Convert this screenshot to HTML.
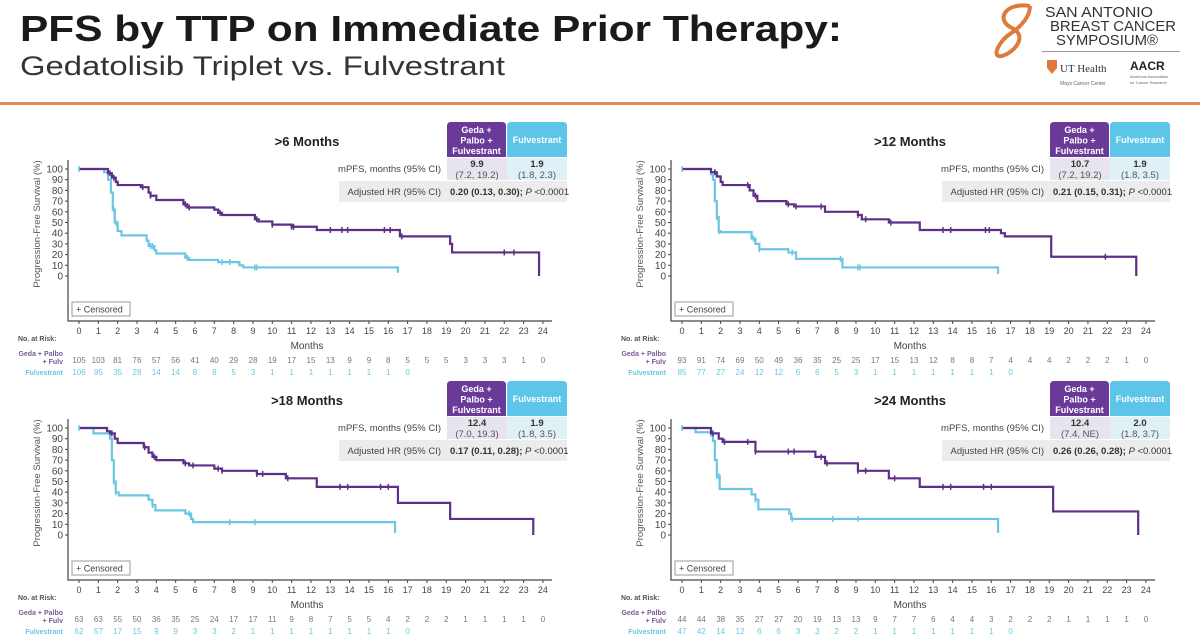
<!DOCTYPE html>
<html><head><meta charset="utf-8"><style>
body{margin:0;background:#fff;}
svg{display:block;font-family:"Liberation Sans",sans-serif;}
</style></head><body>
<svg id="s" width="1200" height="641" viewBox="0 0 1200 641" xmlns="http://www.w3.org/2000/svg">
<text x="20" y="41" font-size="36" font-weight="bold" fill="#1a1a1a" textLength="822" lengthAdjust="spacingAndGlyphs">PFS by TTP on Immediate Prior Therapy:</text>
<text x="20" y="75" font-size="27" fill="#333" textLength="485" lengthAdjust="spacingAndGlyphs">Gedatolisib Triplet vs. Fulvestrant</text>
<rect x="0" y="102" width="1200" height="3" fill="#e8865e"/>
<g>
<path d="M1030 6 C1005 2 995 20 1012 28 C1028 36 1015 52 1002 56 C990 58 1000 40 1010 34 C1022 26 1030 16 1030 6" fill="none" stroke="#e07a3a" stroke-width="4"/>
<text x="1045" y="17" font-size="15" fill="#333" textLength="108" lengthAdjust="spacingAndGlyphs">SAN ANTONIO</text>
<text x="1050" y="31" font-size="15" fill="#333" textLength="126" lengthAdjust="spacingAndGlyphs">BREAST CANCER</text>
<text x="1056" y="45" font-size="15" fill="#333" textLength="102" lengthAdjust="spacingAndGlyphs">SYMPOSIUM®</text>
<rect x="1042" y="51" width="138" height="1" fill="#999"/>
<path d="M1047 60 h10 v8 l-5 6 l-5 -6z" fill="#e07a3a"/>
<text x="1060" y="72" font-size="11" fill="#333" font-family="Liberation Serif, serif">UT Health</text>
<text x="1060" y="85" font-size="5" fill="#666">Mays Cancer Center</text>
<text x="1130" y="70" font-size="12" font-weight="bold" fill="#222">AACR</text>
<text x="1130" y="78" font-size="4" fill="#666">American Association</text>
<text x="1130" y="84" font-size="4" fill="#666">for Cancer Research</text>
</g>
<g id="panels"></g>
</svg>
<script>
const months = [0,1,2,3,4,5,6,7,8,9,10,11,12,13,14,15,16,17,18,19,20,21,22,23,24];
const yTicks = [100,90,80,70,60,50,40,30,20,10,0];
const titles = [">6 Months", ">12 Months", ">18 Months", ">24 Months"];
const mpfsGeda = ["9.9","10.7","12.4","12.4"];
const ciGeda = ["(7.2, 19.2)","(7.2, 19.2)","(7.0, 19.3)","(7.4, NE)"];
const mpfsFulv = ["1.9","1.9","1.9","2.0"];
const ciFulv = ["(1.8, 2.3)","(1.8, 3.5)","(1.8, 3.5)","(1.8, 3.7)"];
const hrText = ["0.20 (0.13, 0.30)","0.21 (0.15, 0.31)","0.17 (0.11, 0.28)","0.26 (0.26, 0.28)"];
const pText = ["P <0.0001","P <0.0001","P <0.0001","P <0.0001"];
const gedaT = [
 [0,1.5,1.7,1.9,2.0,3.2,3.6,3.7,4.0,5.4,5.6,7.0,7.2,7.4,9.1,9.3,10.0,11.0,12.3,16.6,19.2,19.3,23.8],
 [0,1.5,1.8,2.0,2.1,3.5,3.7,3.9,5.4,5.8,7.4,9.1,9.3,10.7,12.3,16.5,16.7,19.1,23.5],
 [0,1.45,1.6,1.85,2.0,3.35,3.6,3.8,4.0,5.4,5.7,7.0,7.4,9.2,10.7,12.3,16.5,19.2,23.5],
 [0,1.5,1.9,2.1,3.8,6.9,7.4,9.1,10.7,12.3,19.2,23.6]];
const gedaS = [
 [100,96,92,88,85,83,78,75,71,67,64,62,59,57,53,51,48,46,43,37,30,22,0],
 [100,97,93,88,85,80,75,70,67,65,60,57,53,50,43,40,37,18,0],
 [100,97,95,90,86,82,77,73,70,67,65,62,60,57,53,45,30,15,0],
 [100,95,90,87,78,73,67,60,53,45,22,0]];
const gedaEnd = [23.8,23.5,23.5,23.6];
const fulvT = [
 [0,1.3,1.5,1.65,1.75,1.85,2.0,2.2,3.5,3.6,3.9,4.0,5.5,5.7,7.2,8.3,8.5,16.5],
 [0,1.5,1.6,1.7,1.8,1.9,2.0,3.6,3.8,4.0,5.5,5.9,8.3,16.35],
 [0,0.75,1.6,1.7,1.8,1.9,2.05,3.6,3.8,3.95,5.5,5.8,5.9,16.35],
 [0,0.7,1.5,1.6,1.7,1.8,1.95,3.6,3.8,3.95,5.55,5.65,16.35]];
const fulvS = [
 [100,97,90,78,62,50,42,38,33,28,24,21,17,15,13,10,8,3],
 [100,95,90,70,55,42,41,35,30,25,22,16,8,2],
 [100,95,90,70,50,40,37,33,28,23,20,15,12,2],
 [100,96,93,88,70,55,43,38,33,24,20,15,2]];
const gedaCens = [[1.6,1.8,3.3,3.7,5.5,5.7,7.3,9.2,10.0,11.0,11.1,13.0,13.6,13.9,15.8,16.1,16.7,22.0,22.5],[1.7,3.4,3.8,5.5,5.9,7.2,9.1,9.5,10.8,13.5,13.9,15.7,15.9,21.9],[1.7,3.4,3.9,5.5,5.9,7.2,7.4,9.2,9.5,10.8,13.5,13.9,15.6,16.0],[1.6,2.2,3.4,3.8,5.5,5.8,7.2,7.5,9.1,9.5,11.0,13.5,13.9,15.6,16.0]];
const fulvCens = [[0,1.8,1.9,3.7,3.8,5.6,7.4,7.8,9.1,9.2],[0,1.8,1.9,3.7,4.0,5.7,8.2,9.1,9.2],[0,1.8,1.9,3.8,5.7,7.8,9.1],[0,1.8,1.9,3.8,5.7,7.8,9.1]];
const riskGeda = [
 [105,103,81,76,57,56,41,40,29,28,19,17,15,13,9,9,8,5,5,5,3,3,3,1,0],
 [93,91,74,69,50,49,36,35,25,25,17,15,13,12,8,8,7,4,4,4,2,2,2,1,0],
 [63,63,55,50,36,35,25,24,17,17,11,9,8,7,5,5,4,2,2,2,1,1,1,1,0],
 [44,44,38,35,27,27,20,19,13,13,9,7,7,6,4,4,3,2,2,2,1,1,1,1,0]];
const riskFulv = [
 [106,95,35,28,14,14,8,8,5,3,1,1,1,1,1,1,1,0],
 [85,77,27,24,12,12,6,6,5,3,1,1,1,1,1,1,1,0],
 [62,57,17,15,9,9,3,3,2,1,1,1,1,1,1,1,1,0],
 [47,42,14,12,6,6,3,3,2,2,1,1,1,1,1,1,1,0]];

const NS="http://www.w3.org/2000/svg";
const root=document.getElementById('panels');
function mk(tag,attrs,parent,text){const e=document.createElementNS(NS,tag);for(const k in attrs)e.setAttribute(k,attrs[k]);if(text!==undefined)e.textContent=text;parent.appendChild(e);return e;}
const PUR="#5e2f86", CYA="#6cc6e2";
function stepPath(T,S,endT,xf,yf){
  let d="M"+xf(T[0])+" "+yf(S[0]);
  for(let i=1;i<T.length;i++){d+=" H"+xf(T[i])+" V"+yf(S[i]);}
  if(endT>T[T.length-1]) d+=" H"+xf(endT);
  return d;
}
function survAt(T,S,t){let s=S[0];for(let i=0;i<T.length;i++){if(T[i]<=t)s=S[i];}return s;}
for(let p=0;p<4;p++){
  const ox=(p%2)*603, oy=Math.floor(p/2)*259;
  const g=mk('g',{},root);
  
  
  const xf=m=>ox+79+m*19.33;
  const yf=v=>oy+276-v*1.07;
  const ax=mk('path',{d:`M${ox+68} ${oy+160} V${oy+321} H${ox+552}`,stroke:"#444","stroke-width":1.2,fill:"none"},g);
  
  
  yTicks.forEach(v=>{
    mk('line',{x1:ox+65,x2:ox+68,y1:yf(v),y2:yf(v),stroke:"#444"},g);
    const t=mk('text',{x:ox+63,y:yf(v)+3.5,"font-size":10,"text-anchor":"end",fill:"#444"},g,String(v));
    
    
  });
  months.forEach(m=>{
    mk('line',{x1:xf(m),x2:xf(m),y1:oy+321,y2:oy+324,stroke:"#444"},g);
    const t=mk('text',{x:xf(m),y:oy+334,"font-size":9,"text-anchor":"middle",fill:"#444"},g,String(m));
    
    
  });
  const yt=mk('text',{x:0,y:0,"font-size":9.5,"text-anchor":"middle",fill:"#555",transform:`translate(${ox+40},${oy+224}) rotate(-90)`},g,"Progression-Free Survival (%)");
  
  
  const xt=mk('text',{x:ox+307,y:oy+349,"font-size":10,"text-anchor":"middle",fill:"#444"},g,"Months");
  
  
  const tt=mk('text',{x:ox+307,y:oy+146,"font-size":13,"font-weight":"bold","text-anchor":"middle",fill:"#222"},g,titles[p]);
  
  
  const cb=mk('rect',{x:ox+72,y:oy+302,width:58,height:14,fill:"#fff",stroke:"#999"},g);
  
  
  mk('text',{x:ox+76,y:oy+312.5,"font-size":9,fill:"#444"},g,"+ Censored");
  const fl=mk('path',{d:stepPath(fulvT[p],fulvS[p],fulvT[p][fulvT[p].length-1],xf,yf),stroke:CYA,"stroke-width":2.2,fill:"none"},g);
  
  
  const gl=mk('path',{d:stepPath(gedaT[p],gedaS[p],gedaEnd[p],xf,yf),stroke:PUR,"stroke-width":2.2,fill:"none"},g);
  
  
  fulvCens[p].forEach(t=>{const y=yf(survAt(fulvT[p],fulvS[p],t));const c=mk('line',{x1:xf(t),x2:xf(t),y1:y-3,y2:y+3,stroke:CYA,"stroke-width":1.5},g);
    
    });
  gedaCens[p].forEach(t=>{const y=yf(survAt(gedaT[p],gedaS[p],t));const c=mk('line',{x1:xf(t),x2:xf(t),y1:y-3,y2:y+3,stroke:PUR,"stroke-width":1.5},g);
    
    });
  mk('text',{x:ox+18,y:oy+341,"font-size":7,fill:"#555","font-weight":"bold"},g,"No. at Risk:");
  mk('text',{x:ox+63,y:oy+356,"font-size":7,fill:"#7a5a9a","text-anchor":"end","font-weight":"bold"},g,"Geda + Palbo");
  mk('text',{x:ox+63,y:oy+364,"font-size":7,fill:"#7a5a9a","text-anchor":"end","font-weight":"bold"},g,"+ Fulv");
  mk('text',{x:ox+63,y:oy+375,"font-size":7,fill:CYA,"text-anchor":"end","font-weight":"bold"},g,"Fulvestrant");
  riskGeda[p].forEach((v,i)=>{const t=mk('text',{x:xf(months[i]),y:oy+363,"font-size":8,"text-anchor":"middle",fill:"#777"},g,String(v));
    
    });
  riskFulv[p].forEach((v,i)=>{const t=mk('text',{x:xf(months[i]),y:oy+375,"font-size":8,"text-anchor":"middle",fill:CYA},g,String(v));
    
    });
  const tb=mk('g',{},g);
  
  
  mk('path',{d:`M${ox+447} ${oy+157} V${oy+126} q0 -4 4 -4 H${ox+502} q4 0 4 4 V${oy+157}Z`,fill:"#6a3a98"},tb);
  mk('path',{d:`M${ox+507} ${oy+157} V${oy+126} q0 -4 4 -4 H${ox+563} q4 0 4 4 V${oy+157}Z`,fill:"#5cc5e8"},tb);
  ["Geda +","Palbo +","Fulvestrant"].forEach((s,i)=>mk('text',{x:ox+476.5,y:oy+133+i*10.5,"font-size":9,"font-weight":"bold",fill:"#fff","text-anchor":"middle"},tb,s));
  mk('text',{x:ox+537,y:oy+143,"font-size":9,"font-weight":"bold",fill:"#fff","text-anchor":"middle"},tb,"Fulvestrant");
  mk('rect',{x:ox+447,y:oy+158,width:60,height:22,fill:"#e8e4ee"},tb);
  mk('rect',{x:ox+507,y:oy+158,width:60,height:22,fill:"#dff0f6"},tb);
  mk('rect',{x:ox+339,y:oy+181,width:228,height:21,fill:"#ececec"},tb);
  mk('text',{x:ox+441,y:oy+172,"font-size":9.5,fill:"#444","text-anchor":"end"},tb,"mPFS, months (95% CI)");
  mk('text',{x:ox+477,y:oy+167,"font-size":9.5,"font-weight":"bold",fill:"#333","text-anchor":"middle"},tb,mpfsGeda[p]);
  mk('text',{x:ox+477,y:oy+178,"font-size":9.5,fill:"#555","text-anchor":"middle"},tb,ciGeda[p]);
  mk('text',{x:ox+537,y:oy+167,"font-size":9.5,"font-weight":"bold",fill:"#333","text-anchor":"middle"},tb,mpfsFulv[p]);
  mk('text',{x:ox+537,y:oy+178,"font-size":9.5,fill:"#555","text-anchor":"middle"},tb,ciFulv[p]);
  mk('text',{x:ox+441,y:oy+195,"font-size":9.5,fill:"#444","text-anchor":"end"},tb,"Adjusted HR (95% CI)");
  const hr=mk('text',{x:ox+450,y:oy+195,"font-size":9.5,fill:"#333"},tb);
  mk('tspan',{"font-weight":"bold"},hr,hrText[p]+"; ");
  mk('tspan',{"font-style":"italic"},hr,pText[p].slice(0,1));
  mk('tspan',{},hr,pText[p].slice(1));
}
</script>
</body></html>
